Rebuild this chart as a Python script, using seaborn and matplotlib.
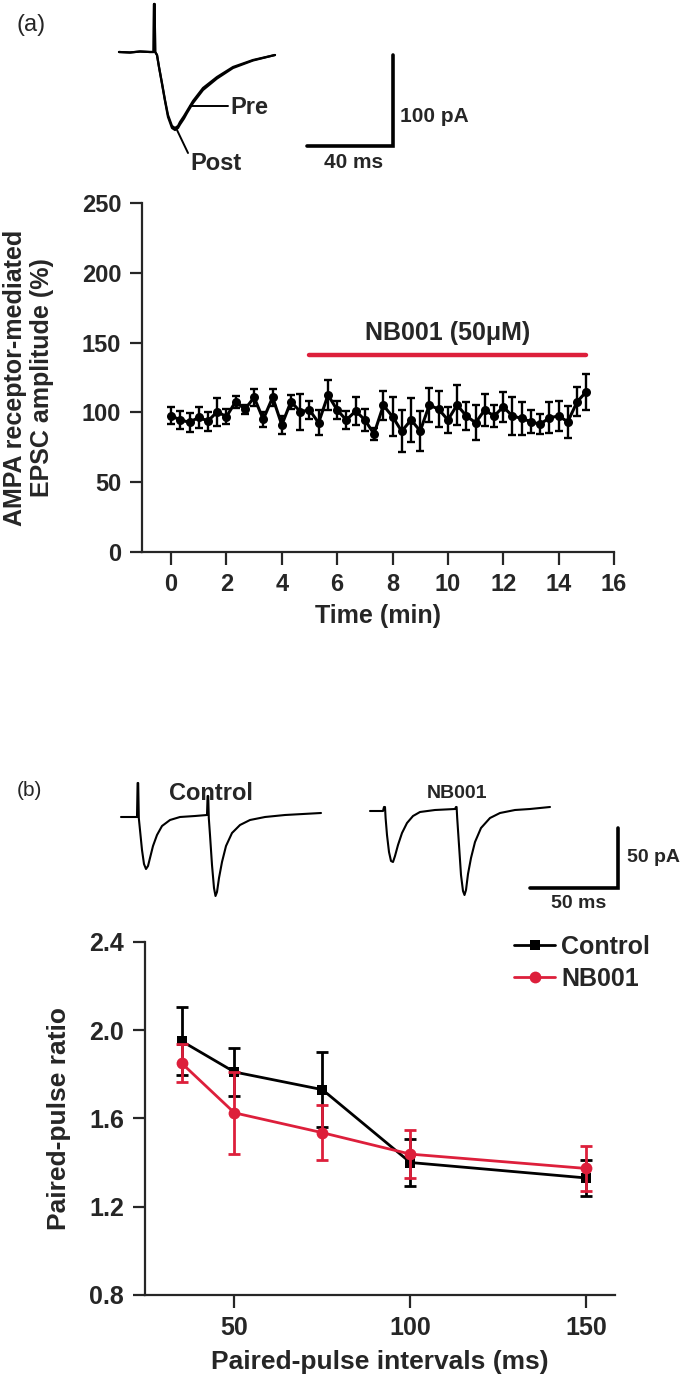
import numpy as np
import pandas as pd
import matplotlib
matplotlib.use("Agg")
import matplotlib.pyplot as plt
import seaborn as sns

# ---------------- data: panel (a) ----------------
time_min = [0.00, 0.33, 0.67, 1.00, 1.33, 1.67, 2.00, 2.33, 2.67, 3.00, 3.33, 3.67,
            4.00, 4.33, 4.67, 5.00, 5.33, 5.67, 6.00, 6.33, 6.67, 7.00, 7.33, 7.67,
            8.00, 8.33, 8.67, 9.00, 9.33, 9.67, 10.00, 10.33, 10.67, 11.00, 11.33, 11.67,
            12.00, 12.33, 12.67, 13.00, 13.33, 13.67, 14.00, 14.33, 14.67, 15.00]
epsc_amp = [97.6, 94.6, 92.9, 96.5, 93.8, 100.5, 96.9, 107.7, 102.2, 110.8, 95.0, 110.8,
            91.0, 107.7, 100.5, 101.7, 92.6, 112.5, 101.7, 94.6, 101.0, 94.6, 84.6, 105.0,
            97.0, 86.5, 94.6, 86.7, 105.3, 102.2, 94.6, 105.3, 97.4, 92.6, 101.7, 97.4,
            104.0, 97.4, 95.7, 93.3, 91.5, 96.2, 97.4, 93.3, 107.7, 114.8]
epsc_err = [6.0, 6.6, 6.6, 7.7, 6.8, 10.0, 5.4, 4.2, 3.0, 6.3, 5.6, 6.0,
            6.6, 5.0, 13.0, 6.6, 9.0, 11.0, 6.6, 6.6, 10.0, 8.0, 4.4, 10.5,
            14.0, 15.0, 16.0, 14.0, 12.0, 13.0, 9.5, 14.0, 10.0, 12.5, 11.6, 7.7,
            10.7, 13.5, 11.7, 8.3, 7.0, 11.0, 10.6, 11.3, 10.4, 13.0]
drug_start, drug_end, drug_level = 5.0, 15.0, 141
a_xticks = [0, 2, 4, 6, 8, 10, 12, 14, 16]
a_yticks = [0, 50, 100, 150, 200, 250]

# ---------------- data: panel (b) ----------------
intervals = [35, 50, 75, 100, 150]
ppr_control = [1.95, 1.81, 1.73, 1.40, 1.33]
ppr_control_err = [0.155, 0.11, 0.17, 0.107, 0.08]
ppr_nb001 = [1.85, 1.625, 1.535, 1.438, 1.373]
ppr_nb001_err = [0.085, 0.185, 0.125, 0.11, 0.10]
b_xticks = [50, 100, 150]
b_yticks = [0.8, 1.2, 1.6, 2.0, 2.4]

# ---------------- example traces (figure pixels) ----------------
trace_a_x = [119, 130, 140, 150, 153.6, 154, 154.6, 155.2, 157, 159, 162, 165, 168, 172,
             175, 178, 180, 184, 187, 193, 203, 217, 233, 253, 275]
trace_a_pre = [52, 52.5, 51.5, 52, 52, 4, 4, 52, 55, 67, 83, 100, 115, 126,
               128, 126, 122, 116, 111, 101, 88, 77, 67, 60, 55]
trace_a_post = [52, 52.5, 51.5, 52, 52, 4, 4, 52, 55, 67, 84, 101, 117, 128,
                130, 128, 124.5, 118.5, 113, 103, 90, 78.5, 68, 60.5, 55]
trace_ctrl_x = [121, 137, 137.6, 138.2, 138.8, 140, 142, 144, 146, 148, 150, 153, 157, 162,
                170, 180, 195, 207, 207.6, 208.2, 208.8, 210, 212, 214, 215.5, 217, 219,
                222, 226, 232, 240, 250, 265, 285, 321]
trace_ctrl_y = [817, 817, 783, 783, 818, 830, 850, 864, 869, 866, 858, 846, 835, 826,
                820, 817, 816, 815, 796, 796, 818, 835, 865, 888, 896, 892, 878,
                862, 846, 833, 825, 820, 817, 815, 813]
trace_nb_x = [370, 383, 384, 385, 385.6, 387, 389, 391, 393, 395, 398, 402, 407, 413, 420,
              435, 455, 456, 456.6, 457.2, 459, 461, 463, 464.5, 466, 468, 471, 475, 481,
              490, 500, 515, 530, 550]
trace_nb_y = [811, 811, 807, 807, 818, 835, 852, 861, 862, 856, 845, 833, 823, 816, 812,
              810, 809, 807, 807, 818, 845, 875, 891, 895, 890, 874, 858, 842, 828,
              818, 813, 810, 809, 807]

RED = "#DD1F3B"

sns.set_style("ticks")
plt.rcParams['font.family'] = ['Liberation Sans', 'DejaVu Sans']
plt.rcParams['font.weight'] = 'bold'
plt.rcParams['axes.labelweight'] = 'bold'

W, H = 688, 1379
fig = plt.figure(figsize=(W / 100, H / 100), dpi=100)


def fbox(left, top, right, bottom):
    return [left / W, 1 - bottom / H, (right - left) / W, (bottom - top) / H]


# ---------------- overlay for traces / annotations ----------------
ov = fig.add_axes([0, 0, 1, 1])
ov.set_xlim(0, W)
ov.set_ylim(H, 0)
ov.axis('off')

ov.plot(trace_a_x, trace_a_pre, color='black', lw=1.6)
ov.plot(trace_a_x, trace_a_post, color='black', lw=1.6)
ov.plot([190, 228], [106, 106], color='black', lw=1.4)
ov.plot([177, 188], [130, 153], color='black', lw=1.4)
ov.text(230, 108, "Pre", fontsize=17, fontweight='bold', va='center', ha='left')
ov.text(190, 164, "Post", fontsize=17, fontweight='bold', va='center', ha='left')
ov.plot([307, 393, 393], [146, 146, 55], color='black', lw=2.6, solid_joinstyle='miter')
ov.text(400, 117, "100 pA", fontsize=15, fontweight='bold', va='center', ha='left')
ov.text(354, 162, "40 ms", fontsize=15, fontweight='bold', va='center', ha='center')
ov.text(17, 25, "(a)", fontsize=17, fontweight='normal', va='center', ha='left')

ov.plot(trace_ctrl_x, trace_ctrl_y, color='black', lw=1.5)
ov.plot(trace_nb_x, trace_nb_y, color='black', lw=1.5)
ov.plot([530, 618, 618], [888, 888, 828], color='black', lw=2.6, solid_joinstyle='miter')
ov.text(627, 858, "50 pA", fontsize=14, fontweight='bold', va='center', ha='left')
ov.text(579, 903, "50 ms", fontsize=14, fontweight='bold', va='center', ha='center')
ov.text(17, 791, "(b)", fontsize=15, fontweight='normal', va='center', ha='left')
ov.text(211, 793, "Control", fontsize=17, fontweight='bold', va='center', ha='center')
ov.text(457, 793, "NB001", fontsize=14, fontweight='bold', va='center', ha='center')


def style_axes(ax, fs):
    sns.despine(ax=ax)
    for s in ['left', 'bottom']:
        ax.spines[s].set_linewidth(1.6)
    ax.tick_params(axis='both', which='major', direction='out', length=9, width=1.6,
                   labelsize=fs, pad=6)
    for lab in ax.get_xticklabels() + ax.get_yticklabels():
        lab.set_fontweight('bold')


# ---------------- panel (a) ----------------
axA = fig.add_axes(fbox(142, 203, 614, 552))
axA.set_facecolor('none')
sns.lineplot(x=time_min, y=epsc_amp, ax=axA, color='black', lw=2.2, marker='o',
             markersize=6.5, markeredgewidth=0, zorder=3)
axA.errorbar(time_min, epsc_amp, yerr=epsc_err, fmt='none', ecolor='black',
             elinewidth=1.7, capsize=3.2, capthick=1.7, zorder=2)
axA.plot([drug_start, drug_end], [drug_level, drug_level], color=RED, lw=3.2,
         solid_capstyle='round')
axA.text((drug_start + drug_end) / 2, drug_level + 7, "NB001 (50\u03bcM)", fontsize=18,
         fontweight='bold', ha='center', va='bottom')
axA.set_xlim(-1.05, 16.0)
axA.set_ylim(0, 250)
axA.set_xticks(a_xticks)
axA.set_yticks(a_yticks)
style_axes(axA, 17)
axA.set_xlabel("Time (min)", fontsize=18, fontweight='bold')
axA.set_ylabel("AMPA receptor-mediated\nEPSC amplitude (%)", fontsize=18,
               fontweight='bold', linespacing=1.15)
axA.xaxis.set_label_coords(0.5, -0.15)
axA.yaxis.set_label_coords(-0.186, 0.5)

# ---------------- panel (b) ----------------
axB = fig.add_axes(fbox(145, 941.7, 614.5, 1295))
axB.set_facecolor('none')
sns.lineplot(x=intervals, y=ppr_control, ax=axB, color='black', lw=2.0, marker='s',
             markersize=7.5, markeredgewidth=0, label='Control', zorder=3)
axB.errorbar(intervals, ppr_control, yerr=ppr_control_err, fmt='none', ecolor='black',
             elinewidth=2.0, capsize=4.5, capthick=2.0, zorder=2)
sns.lineplot(x=intervals, y=ppr_nb001, ax=axB, color=RED, lw=2.0, marker='o',
             markersize=8.5, markeredgewidth=0, label='NB001', zorder=5)
axB.errorbar(intervals, ppr_nb001, yerr=ppr_nb001_err, fmt='none', ecolor=RED,
             elinewidth=2.0, capsize=4.5, capthick=2.0, zorder=4)
axB.set_xlim(24.6, 158)
axB.set_ylim(0.8, 2.4)
axB.set_xticks(b_xticks)
axB.set_yticks(b_yticks)
axB.set_yticklabels([f"{v:.1f}" for v in b_yticks])
style_axes(axB, 18)
axB.set_xlabel("Paired-pulse intervals (ms)", fontsize=19, fontweight='bold')
axB.set_ylabel("Paired-pulse ratio", fontsize=19, fontweight='bold')
axB.xaxis.set_label_coords(0.5, -0.155)
axB.yaxis.set_label_coords(-0.158, 0.5)

leg = axB.legend(loc='upper left', bbox_to_anchor=(514 / W, 1 - 935 / H),
                 bbox_transform=fig.transFigure, frameon=False, fontsize=18,
                 handlelength=1.65, handletextpad=0.25, labelspacing=0.3,
                 borderpad=0, borderaxespad=0)
for t in leg.get_texts():
    t.set_fontweight('bold')

fig.savefig("out.png", dpi=100)
